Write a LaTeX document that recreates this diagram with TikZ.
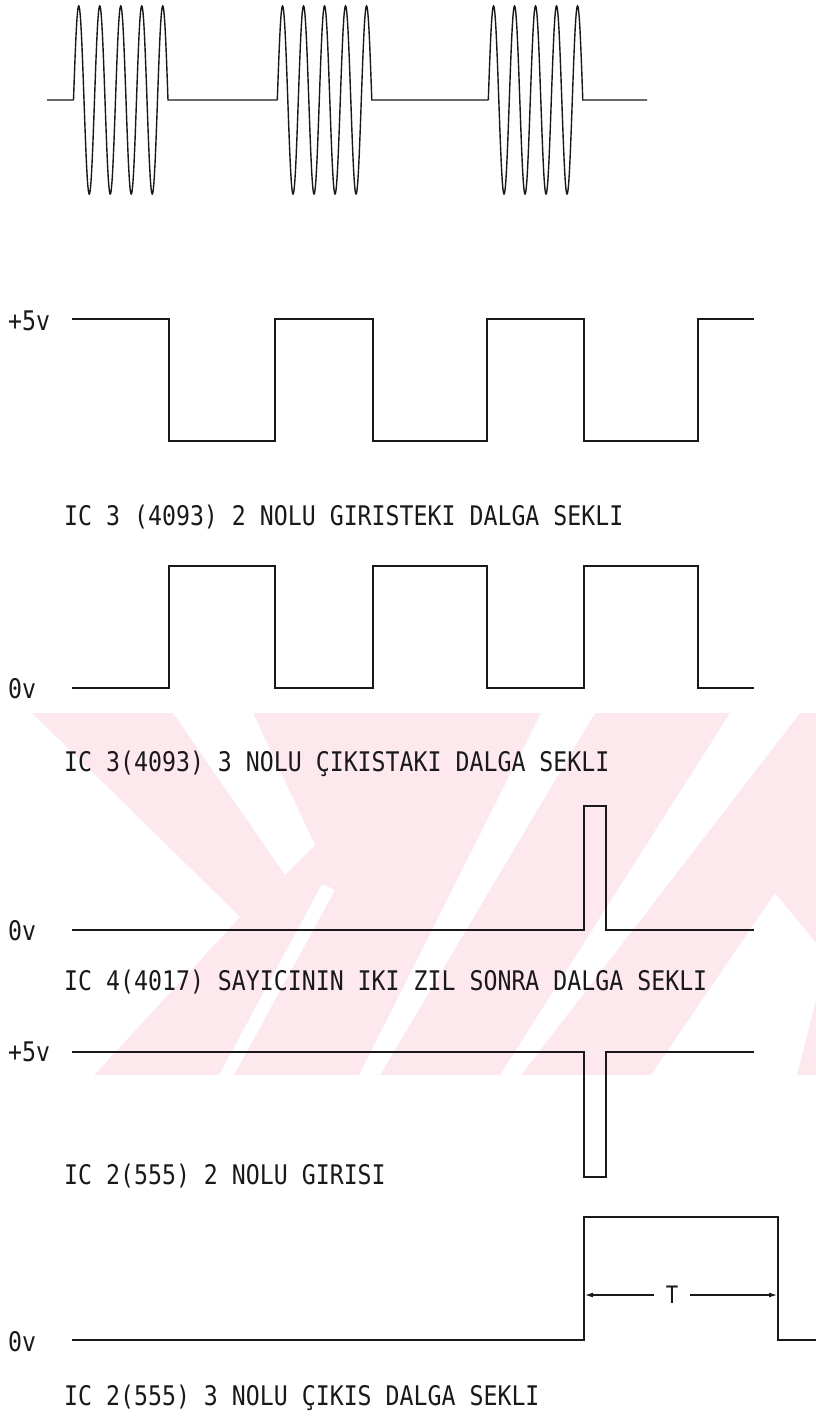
\documentclass[tikz,border=0pt]{standalone}
\usepackage{fontspec}
\newfontfamily\plotfont{DejaVu Sans Mono}[FakeStretch=0.86]
\definecolor{wm}{RGB}{252,232,237}
\definecolor{ink}{RGB}{25,25,25}
\usetikzlibrary{arrows.meta}
\tikzset{
  wave/.style={line width=1.4pt, line join=miter, draw=ink},
  lbl/.style={font=\plotfont\fontsize{27}{30}\selectfont, text=ink, anchor=base west, inner sep=0pt},
  tlab/.style={font=\plotfont\fontsize{24}{26}\selectfont, text=ink, inner xsep=12pt, inner ysep=0pt},
  dimarrow/.style={line width=1.2pt, draw=ink, -{Latex[length=8pt,width=5pt]}}
}
\begin{document}
\begin{tikzpicture}[x=1pt,y=-1pt]
\useasboundingbox (0,0) rectangle (816,1424);
% watermark band
\begin{scope}
\clip (0,713) rectangle (816,1075);
\fill[wm] (0,713) rectangle (816,1075);
\fill[white] (0,713) -- (32,713) -- (240,917) -- (94,1075) -- (0,1075) -- cycle;
\fill[white] (173,713) -- (253,713) -- (315,845) -- (285,875) -- cycle;
\fill[white] (219,1075) -- (234,1075) -- (335,890) -- (322,884) -- cycle;
\fill[white] (359,1075) -- (380,1075) -- (595,713) -- (541,713) -- cycle;
\fill[white] (500,1075) -- (521,1075) -- (800,713) -- (730,713) -- cycle;
\fill[white] (651,1075) -- (775,893) -- (816,943) -- (816,1000) -- (797,1075) -- cycle;
\end{scope}

% Row 1: bursts
\draw[wave] (47,100) -- (73.5,100)
  plot[domain=0:4.5,samples=271] ({73.5+21*\x},{100-94*sin(360*\x)}) -- (168,100)
  -- (277.3,100)
  plot[domain=0:4.5,samples=271] ({277.3+21*\x},{100-94*sin(360*\x)}) -- (371.8,100)
  -- (488.3,100)
  plot[domain=0:4.5,samples=271] ({488.3+21*\x},{100-94*sin(360*\x)}) -- (582.8,100)
  -- (647,100);

% Row 2
\node[lbl] (v5a) at (8,330) {+5v};
\draw[wave] (72,319) -- (169,319) -- (169,441) -- (275,441) -- (275,319) -- (373,319) -- (373,441)
  -- (487,441) -- (487,319) -- (584,319) -- (584,441) -- (698,441) -- (698,319) -- (754,319);
\node[lbl] (l1) at (64,525) {IC 3 (4093) 2 NOLU GIRISTEKI DALGA SEKLI};

% Row 3
\node[lbl] (v0a) at (8,698) {0v};
\draw[wave] (72,688) -- (169,688) -- (169,566) -- (275,566) -- (275,688) -- (373,688) -- (373,566)
  -- (487,566) -- (487,688) -- (584,688) -- (584,566) -- (698,566) -- (698,688) -- (754,688);
\node[lbl] (l2) at (64,771) {IC 3(4093) 3 NOLU ÇIKISTAKI DALGA SEKLI};

% Row 4
\node[lbl] (v0b) at (8,940) {0v};
\draw[wave] (72,930) -- (584,930) -- (584,806) -- (606,806) -- (606,930) -- (754,930);
\node[lbl] (l3) at (64,990) {IC 4(4017) SAYICININ IKI ZIL SONRA DALGA SEKLI};

% Row 5
\node[lbl] (v5b) at (8,1061) {+5v};
\draw[wave] (72,1052) -- (584,1052) -- (584,1177) -- (606,1177) -- (606,1052) -- (754,1052);
\node[lbl] (l4) at (64,1184) {IC 2(555) 2 NOLU GIRISI};

% Row 6
\node[lbl] (v0c) at (8,1351) {0v};
\draw[wave] (72,1340) -- (584,1340) -- (584,1217) -- (778,1217) -- (778,1340) -- (816,1340);
\coordinate (ta) at (585,1295);
\coordinate (tb) at (777,1295);
\node[tlab] (tt) at (672,1295) {T};
\draw[dimarrow] (tt.west) -- (ta);
\draw[dimarrow] (tt.east) -- (tb);
\node[lbl] (l5) at (64,1405) {IC 2(555) 3 NOLU ÇIKIS DALGA SEKLI};
\end{tikzpicture}
\end{document}
